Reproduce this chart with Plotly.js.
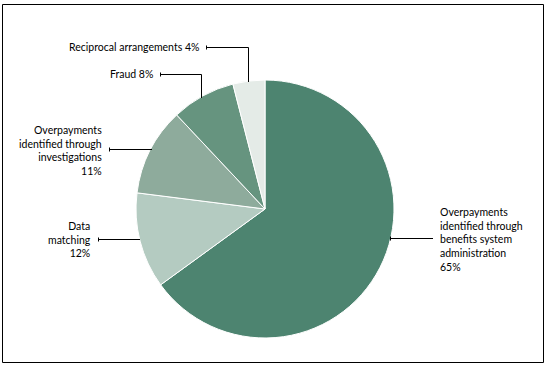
<!DOCTYPE html>
<html>
<head>
<meta charset="utf-8">
<script src="https://cdn.plot.ly/plotly-3.0.1.min.js"></script>
<style>html,body{margin:0;padding:0;background:#fff;}#chart{width:547px;height:366px;}</style>
</head>
<body>
<div id="chart"></div>
<script>
// Data
const categories = [
  "Overpayments identified through benefits system administration",
  "Data matching",
  "Overpayments identified through investigations",
  "Fraud",
  "Reciprocal arrangements"
];
const values = [65, 12, 11, 8, 4];
const sliceColors = ["#4d8470", "#b4cbc1", "#8eab9c", "#66947f", "#e4ebe7"];
const labelLines = [
  ["Overpayments", "identified through", "benefits system", "administration"],
  ["Data", "matching"],
  ["Overpayments", "identified through", "investigations"],
  ["Fraud"],
  ["Reciprocal arrangements"]
];

const W = 547, H = 366;
const px = x => x / W;
const py = y => 1 - y / H;

// label layout (pixel positions) and leader lines
const labelPos = [
  {x: 438, y: 240, anchor: "left", inline: false},
  {x: 93, y: 240, anchor: "right", inline: false},
  {x: 104, y: 150, anchor: "right", inline: false},
  {x: 155, y: 74, anchor: "right", inline: true},
  {x: 201, y: 47, anchor: "right", inline: true}
];
const leaders = [
  [[390, 238.5], [433, 238.5]],
  [[98, 239.5], [140, 239.5]],
  [[109, 149.5], [152, 149.5]],
  [[160, 74.5], [201.5, 74.5], [201.5, 98]],
  [[206, 47.5], [248.5, 47.5], [248.5, 82]]
];

const annotations = categories.map((c, i) => {
  const lines = labelLines[i];
  const pct = values[i] + "%";
  const text = labelPos[i].inline ? lines.join(" ") + " " + pct : lines.concat([pct]).join("<br>");
  return {
    xref: "paper", yref: "paper",
    x: px(labelPos[i].x), y: py(labelPos[i].y),
    xanchor: labelPos[i].anchor, yanchor: "middle",
    align: labelPos[i].anchor,
    text: text, showarrow: false,
    font: {family: "Lato, 'Open Sans', sans-serif", size: 10.5, color: "#000000"}
  };
});

const shapes = [{
  type: "rect", xref: "paper", yref: "paper",
  x0: px(2.5), x1: px(543.5), y0: py(362.5), y1: py(4.5),
  line: {color: "#000000", width: 1}, fillcolor: "rgba(0,0,0,0)"
}];
leaders.forEach(pts => {
  for (let k = 0; k < pts.length - 1; k++) {
    shapes.push({
      type: "line", xref: "paper", yref: "paper",
      x0: px(pts[k][0]), y0: py(pts[k][1]), x1: px(pts[k + 1][0]), y1: py(pts[k + 1][1]),
      line: {color: "#000000", width: 1}
    });
  }
  // small end tick at label side
  const s = pts[0];
  shapes.push({
    type: "line", xref: "paper", yref: "paper",
    x0: px(s[0] + 0.5), y0: py(s[1] - 2), x1: px(s[0] + 0.5), y1: py(s[1] + 2),
    line: {color: "#000000", width: 1}
  });
});

const trace = {
  type: "pie",
  labels: categories,
  values: values,
  sort: false,
  direction: "clockwise",
  rotation: 0,
  textinfo: "none",
  hoverinfo: "none",
  marker: {colors: sliceColors, line: {color: "#ffffff", width: 1}},
  domain: {x: [px(136), px(394)], y: [py(338), py(80)]},
  showlegend: false
};

Plotly.newPlot("chart", [trace], {
  width: W, height: H,
  margin: {l: 0, r: 0, t: 0, b: 0},
  paper_bgcolor: "#ffffff",
  showlegend: false,
  annotations: annotations,
  shapes: shapes
}, {displayModeBar: false, staticPlot: true});
</script>
</body>
</html>
